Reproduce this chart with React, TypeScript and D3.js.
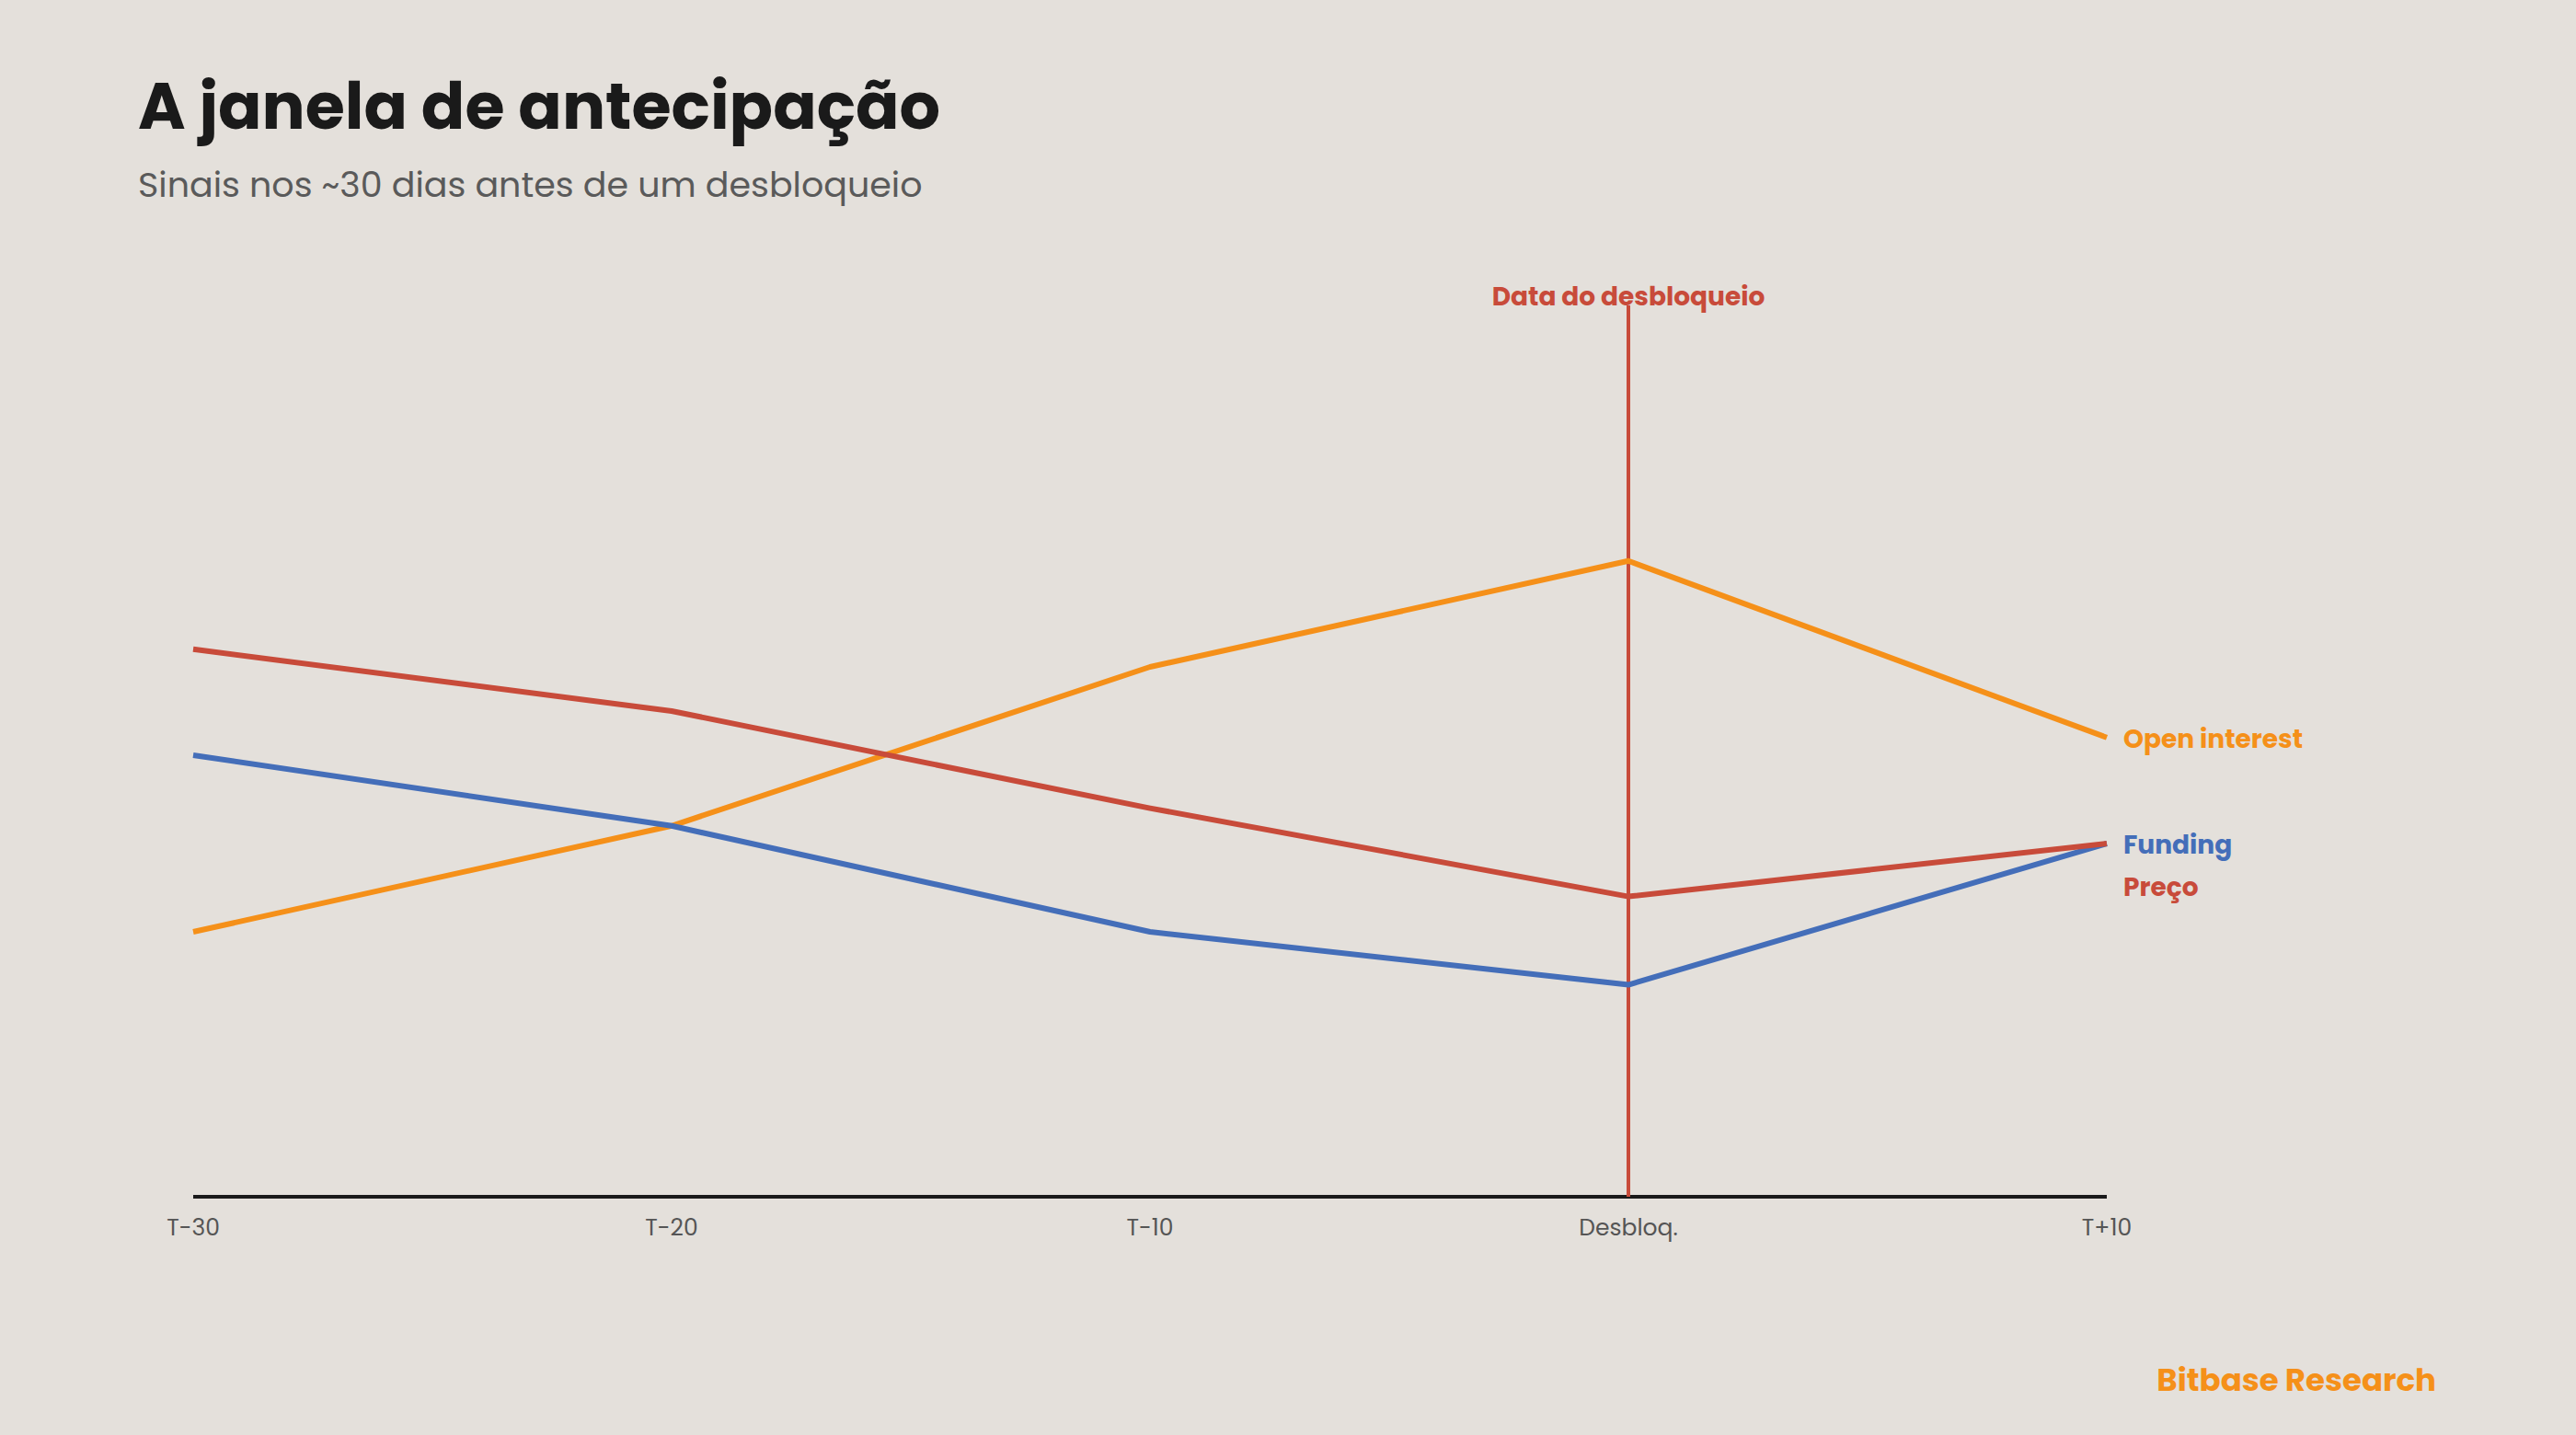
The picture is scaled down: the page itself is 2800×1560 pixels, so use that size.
import { useEffect, useRef } from "react";
import * as d3 from "d3";

const periods = ["T-30", "T-20", "T-10", "Desbloq.", "T+10"];
const openInterest = [30, 42, 60, 72, 52];
const funding = [50, 42, 30, 24, 40];
const preco = [62, 55, 44, 34, 40];
const unlockPeriod = "Desbloq.";

const colors = {
  background: "#e4e0db",
  title: "#1a1a1a",
  subtitle: "#5a5a5a",
  axis: "#1a1a1a",
  tick: "#555555",
  orange: "#f59019",
  blue: "#446eb9",
  red: "#c84b3a",
};

const series = [
  { name: "Open interest", values: openInterest, color: colors.orange },
  { name: "Funding", values: funding, color: colors.blue },
  { name: "Preço", values: preco, color: colors.red },
];

const font = "Poppins, Inter, 'Noto Sans', sans-serif";

export default function App() {
  const svgRef = useRef<SVGSVGElement>(null);

  useEffect(() => {
    document.body.style.margin = "0";
    document.body.style.background = colors.background;
    if (!svgRef.current) return;

    const width = 2800;
    const height = 1560;
    const margin = { top: 330, right: 510, bottom: 259, left: 210 };

    const svg = d3.select(svgRef.current);
    svg.selectAll("*").remove();
    svg.attr("viewBox", `0 0 ${width} ${height}`);

    svg
      .append("rect")
      .attr("width", width)
      .attr("height", height)
      .attr("fill", colors.background);

    // titles
    svg
      .append("text")
      .attr("x", 150)
      .attr("y", 140)
      .attr("font-family", font)
      .attr("font-size", 70)
      .attr("font-weight", 700)
      .attr("fill", colors.title)
      .text("A janela de antecipação");

    svg
      .append("text")
      .attr("x", 150)
      .attr("y", 214)
      .attr("font-family", font)
      .attr("font-size", 38)
      .attr("font-weight", 400)
      .attr("fill", colors.subtitle)
      .text("Sinais nos ~30 dias antes de um desbloqueio");

    const x = d3
      .scalePoint<string>()
      .domain(periods)
      .range([margin.left, width - margin.right]);

    const y = d3
      .scaleLinear()
      .domain([0, 100])
      .range([height - margin.bottom, 341]);

    const g = svg.append("g");

    // axis baseline
    g.append("line")
      .attr("x1", x(periods[0])!)
      .attr("x2", x(periods[periods.length - 1])!)
      .attr("y1", y(0))
      .attr("y2", y(0))
      .attr("stroke", colors.axis)
      .attr("stroke-width", 4);

    g.selectAll("text.tick")
      .data(periods)
      .join("text")
      .attr("class", "tick")
      .attr("x", (d) => x(d)!)
      .attr("y", y(0) + 42)
      .attr("text-anchor", "middle")
      .attr("font-family", font)
      .attr("font-size", 25)
      .attr("fill", colors.tick)
      .text((d) => d);

    // unlock marker
    const ux = x(unlockPeriod)!;
    g.append("line")
      .attr("x1", ux)
      .attr("x2", ux)
      .attr("y1", margin.top + 2)
      .attr("y2", y(0))
      .attr("stroke", colors.red)
      .attr("stroke-width", 4);

    g.append("text")
      .attr("x", ux)
      .attr("y", margin.top + 2)
      .attr("text-anchor", "middle")
      .attr("font-family", font)
      .attr("font-size", 28)
      .attr("font-weight", 700)
      .attr("fill", colors.red)
      .text("Data do desbloqueio");

    const line = d3
      .line<number>()
      .x((_, i) => x(periods[i])!)
      .y((d) => y(d));

    g.selectAll("path.series")
      .data(series)
      .join("path")
      .attr("class", "series")
      .attr("fill", "none")
      .attr("stroke", (d) => d.color)
      .attr("stroke-width", 6)
      .attr("stroke-linejoin", "round")
      .attr("d", (d) => line(d.values));

    // end labels, nudged apart so they don't overlap
    const last = periods.length - 1;
    const labels = series
      .map((s) => ({ ...s, ly: y(s.values[last]) }))
      .sort((a, b) => a.ly - b.ly);
    for (let i = 1; i < labels.length; i++) {
      if (labels[i].ly - labels[i - 1].ly < 46) labels[i].ly = labels[i - 1].ly + 46;
    }

    g.selectAll("text.label")
      .data(labels)
      .join("text")
      .attr("class", "label")
      .attr("x", x(periods[last])! + 18)
      .attr("y", (d) => d.ly + 11)
      .attr("font-family", font)
      .attr("font-size", 28)
      .attr("font-weight", 700)
      .attr("fill", (d) => d.color)
      .text((d) => d.name);

    svg
      .append("text")
      .attr("x", 2648)
      .attr("y", 1512)
      .attr("text-anchor", "end")
      .attr("font-family", font)
      .attr("font-size", 34)
      .attr("font-weight", 700)
      .attr("fill", colors.orange)
      .text("Bitbase Research");
  }, []);

  return (
    <svg
      ref={svgRef}
      width={2800}
      height={1560}
      style={{ display: "block" }}
    />
  );
}
